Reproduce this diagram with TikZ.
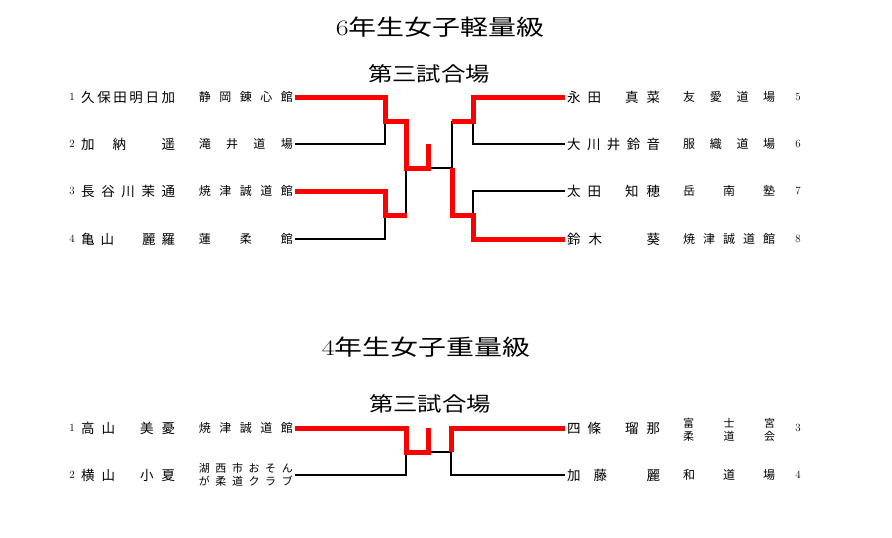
\documentclass[tikz,border=0pt]{standalone}
\usepackage{fontspec}
\newfontfamily\jp{Noto Sans CJK JP}
\tikzset{
  title/.style={inner sep=0pt, font=\fontsize{22}{22}\selectfont},
  subtitle/.style={inner sep=0pt, font=\jp\fontsize{20}{20}\selectfont},
  pname/.style={inner ysep=0pt, inner xsep=2pt, font=\jp\fontsize{13.5}{13.5}\selectfont},
  club/.style={inner ysep=0pt, inner xsep=2pt, font=\jp\fontsize{12}{12}\selectfont},
  clubtwo/.style={inner ysep=0pt, inner xsep=2pt, align=left, font=\jp\fontsize{11}{13}\selectfont},
  num/.style={inner sep=0pt, font=\fontsize{11}{11}\selectfont},
  win/.style={draw=red, line width=5pt, line join=miter},
  lose/.style={draw=black, line width=1.2pt},
  final/.style={draw=black, line width=2pt},
}
\newcommand\LW[1]{\makebox[94pt][s]{#1}}
\newcommand\RW[1]{\makebox[93pt][s]{#1}}
\newcommand\CW[1]{\makebox[92pt][s]{#1}}
\begin{document}
\begin{tikzpicture}[x=1pt,y=-1pt]
\path[use as bounding box] (0,0) rectangle (892,538);

% ---------- top bracket ----------
\node[title] (t1) at (440,27) {\scalebox{1.27}[1]{6\jp 年生女子軽量級}};
\node[subtitle] (s1) at (429,74) {\scalebox{1.22}[1]{第三試合場}};

% left entries
\node[num] (a1k) at (72,97) {1};
\node[pname, anchor=west] (a1n) at (79,97) {\LW{久\hfill 保\hfill 田\hfill 明\hfill 日\hfill 加}};
\node[club, anchor=east] (a1c) at (295,97) {\LW{静\hfill 岡\hfill 錬\hfill 心\hfill 館}};
\node[num] (a2k) at (72,144) {2};
\node[pname, anchor=west] (a2n) at (79,144) {\LW{加\hspace{18pt}納\hfill 遥}};
\node[club, anchor=east] (a2c) at (295,144) {\LW{滝\hfill 井\hfill 道\hfill 場}};
\node[num] (a3k) at (72,191) {3};
\node[pname, anchor=west] (a3n) at (79,191) {\LW{長\hfill 谷\hfill 川\hfill 茉\hfill 通}};
\node[club, anchor=east] (a3c) at (295,191) {\LW{焼\hfill 津\hfill 誠\hfill 道\hfill 館}};
\node[num] (a4k) at (72,239) {4};
\node[pname, anchor=west] (a4n) at (79,239) {\LW{亀\hspace{6pt}山\hfill 麗\hspace{6pt}羅}};
\node[club, anchor=east] (a4c) at (295,239) {\LW{蓮\hfill 柔\hfill 館}};

% right entries
\node[pname, anchor=west] (b5n) at (565,97) {\RW{永\hspace{7pt}田\hfill 真\hspace{8pt}菜}};
\node[club, anchor=west] (b5c) at (681,97) {\CW{友\hfill 愛\hfill 道\hfill 場}};
\node[num] (b5k) at (798,97) {5};
\node[pname, anchor=west] (b6n) at (565,144) {\RW{大\hfill 川\hfill 井\hfill 鈴\hfill 音}};
\node[club, anchor=west] (b6c) at (681,144) {\CW{服\hfill 織\hfill 道\hfill 場}};
\node[num] (b6k) at (798,144) {6};
\node[pname, anchor=west] (b7n) at (565,191) {\RW{太\hspace{7pt}田\hfill 知\hspace{8pt}穂}};
\node[club, anchor=west] (b7c) at (681,191) {\CW{岳\hfill 南\hfill 塾}};
\node[num] (b7k) at (798,191) {7};
\node[pname, anchor=west] (b8n) at (565,239) {\RW{鈴\hspace{8pt}木\hfill 葵}};
\node[club, anchor=west] (b8c) at (681,239) {\CW{焼\hfill 津\hfill 誠\hfill 道\hfill 館}};
\node[num] (b8k) at (798,239) {8};

% connectors (losers first, winners on top)
\draw[lose] (a2c.east) -- (385,144) -- (385,121);
\draw[lose] (a4c.east) -- (385,239) -- (385,215);
\draw[lose] (406,168) -- (406,215);
\draw[final] (428,168) -- (452,168);
\draw[lose] (452,168) -- (452,121);
\draw[lose] (b6n.west) -- (473,144) -- (473,121);
\draw[lose] (b7n.west) -- (473,191) -- (473,215);
\draw[win] (a1c.east) -- (385,97) -- (385,121) -- (406,121) -- (406,168) -- (428,168) -- (428,144);
\draw[win] (a3c.east) -- (385,191) -- (385,215) -- (407,215);
\draw[win] (452,121) -- (473,121) -- (473,97) -- (b5n.west);
\draw[win] (452,168) -- (452,215) -- (473,215) -- (473,239) -- (b8n.west);

% ---------- bottom bracket ----------
\node[title] (t2) at (426,347) {\scalebox{1.27}[1]{4\jp 年生女子重量級}};
\node[subtitle] (s2) at (430,404) {\scalebox{1.22}[1]{第三試合場}};

\node[num] (c1k) at (72,428) {1};
\node[pname, anchor=west] (c1n) at (79,428) {\LW{高\hspace{7pt}山\hfill 美\hspace{8pt}憂}};
\node[club, anchor=east] (c1c) at (295,428) {\LW{焼\hfill 津\hfill 誠\hfill 道\hfill 館}};
\node[num] (c2k) at (72,475) {2};
\node[pname, anchor=west] (c2n) at (79,475) {\LW{横\hspace{7pt}山\hfill 小\hspace{8pt}夏}};
\node[clubtwo, anchor=east] (c2c) at (295,475) {\LW{湖\hfill 西\hfill 市\hfill お\hfill そ\hfill ん}\\\LW{が\hfill 柔\hfill 道\hfill ク\hfill ラ\hfill ブ}};

\node[pname, anchor=west] (d3n) at (565,428) {\RW{四\hspace{7pt}條\hfill 瑠\hspace{8pt}那}};
\node[clubtwo, anchor=west] (d3c) at (681,430) {\CW{富\hfill 士\hfill 宮}\\\CW{柔\hfill 道\hfill 会}};
\node[num] (d3k) at (798,428) {3};
\node[pname, anchor=west] (d4n) at (565,475) {\RW{加\hspace{13pt}藤\hfill 麗}};
\node[club, anchor=west] (d4c) at (681,475) {\CW{和\hfill 道\hfill 場}};
\node[num] (d4k) at (798,475) {4};

\draw[lose] (c2c.east) -- (406,475) -- (406,452);
\draw[final] (428,452) -- (451,452);
\draw[lose] (451,452) -- (451,475) -- (d4n.west);
\draw[win] (c1c.east) -- (406,428) -- (406,452) -- (428,452) -- (428,428);
\draw[win] (451,452) -- (451,428) -- (d3n.west);
\end{tikzpicture}
\end{document}
